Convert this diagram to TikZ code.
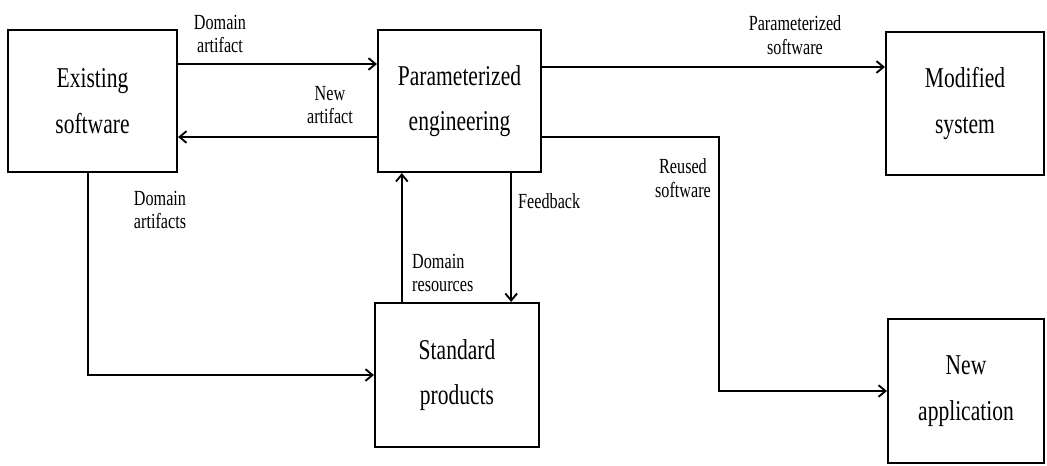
\documentclass[tikz,border=0pt]{standalone}
\usepackage{fontspec}
\setmainfont{Liberation Serif}[FakeStretch=0.75]
\newcommand\boxfont{\fontsize{24.5}{39}\selectfont}
\newcommand\lblfont{\fontsize{18.4}{20}\selectfont}
\usetikzlibrary{positioning, arrows.meta}

\begin{document}
\begin{tikzpicture}[x=0.03cm, y=-0.03cm,
    block/.style={draw, rectangle, line width=1.8pt, align=center, font=\boxfont},
    flow/.style={-{Straight Barb[length=6pt, width=10pt]}, line width=1.6pt},
    lbl/.style={align=center, font=\lblfont, inner sep=0pt}]
    \useasboundingbox (0,0) rectangle (1047,465);

    % Boxes
    \node[block, minimum width=5.07cm, minimum height=4.26cm] (exist) at (92.5,101) {Existing\\software};
    \node[block, minimum width=4.89cm, minimum height=4.26cm] (param) at (459.5,101) {Parameterized\\engineering};
    \node[block, minimum width=4.74cm, minimum height=4.29cm] (modsys) at (965,103.5) {Modified\\system};
    \node[block, minimum width=4.92cm, minimum height=4.32cm] (stdprod) at (457,375) {Standard\\products};
    \node[block, minimum width=4.68cm, minimum height=4.32cm] (newapp) at (966,391) {New\\application};

    % Between existing software and engineering
    \draw[flow] ([yshift=1.11cm]exist.east) -- ([yshift=1.11cm]exist.east -| param.west);
    \draw[flow] ([yshift=-1.08cm]param.west) -- ([yshift=-1.08cm]param.west -| exist.east);
    \node[lbl] (ldart) at (220,34) {Domain\\artifact};
    \node[lbl] (lnew) at (330,105) {New\\artifact};

    % Out of engineering
    \draw[flow] ([yshift=1.02cm]param.east) -- ([yshift=1.02cm]param.east -| modsys.west);
    \node[lbl] (lpsoft) at (795,35) {Parameterized\\software};
    \draw[flow] ([yshift=-1.08cm]param.east) -| ([xshift=-5.04cm]newapp.west) -- (newapp.west);
    \node[lbl] (lreuse) at (683,178) {Reused\\software};

    % Engineering and standard products
    \draw[flow] ([xshift=1.55cm]param.south) -- ([xshift=1.55cm]param.south |- stdprod.north);
    \draw[flow] ([xshift=-1.73cm]param.south |- stdprod.north) -- ([xshift=-1.73cm]param.south);
    \node[lbl, anchor=west] (lfeed) at (518,201) {Feedback};
    \node[lbl, align=left, anchor=west] (lres) at (412,273) {Domain\\resources};

    % Existing software to standard products
    \draw[flow] ([xshift=-0.14cm]exist.south) |- (stdprod.west);
    \node[lbl] (ldarts) at (160,210) {Domain\\artifacts};

\end{tikzpicture}
\end{document}
